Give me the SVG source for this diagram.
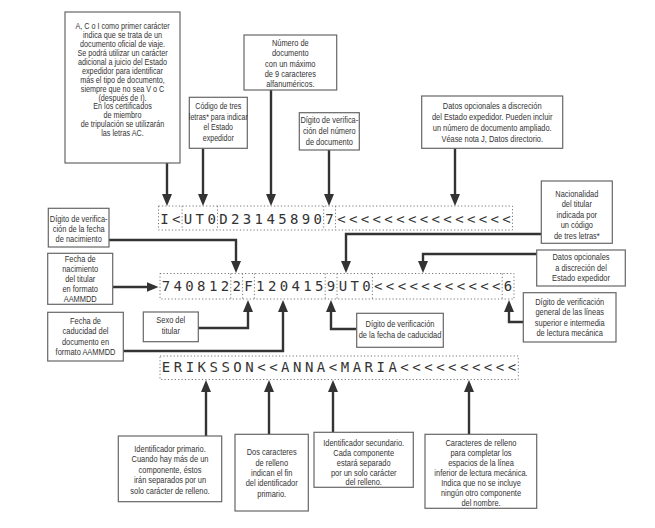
<svg xmlns="http://www.w3.org/2000/svg" width="655" height="528" viewBox="0 0 655 528">
<style>
.bx{fill:#fff;stroke:#666;stroke-width:1.2}
.t{font-family:"Liberation Sans",Arial,sans-serif;font-size:9.3px;fill:#333;text-anchor:middle}
.ta{font-size:8.5px}
.c{fill:none;stroke:#333;stroke-width:2.4;marker-end:url(#ah)}
.dot{fill:none;stroke:#777;stroke-width:1;stroke-dasharray:1.2 2.2}
.mrz{font-family:"DejaVu Sans Mono",monospace;font-size:14px;fill:#333;letter-spacing:3.37px}
</style>
<defs>
<marker id="ah" viewBox="0 0 12 10" refX="0.5" refY="5" markerWidth="12" markerHeight="10" markerUnits="userSpaceOnUse" orient="auto"><path d="M0,0 L12,5 L0,10 z" fill="#333"/></marker>
</defs>
<rect width="655" height="528" fill="#fff"/>

<g id="connectors">
<path class="c" d="M167,163 V194.5"/>
<path class="c" d="M203,148 V194.5"/>
<path class="c" d="M271,90 V194.5"/>
<path class="c" d="M329,150 V194.5"/>
<path class="c" d="M455,148 V194.5"/>
<path class="c" d="M541,234 H346 V261.5"/>
<path class="c" d="M537,254 H423 V261.5"/>
<path class="c" d="M109,240 H236 V261.5"/>
<path class="c" d="M113,287 H147"/>
<path class="c" d="M198,328 H248 V311.5"/>
<path class="c" d="M123,351 H283 V311.5"/>
<path class="c" d="M356,329 H331 V311.5"/>
<path class="c" d="M523,322 H509 V311.5"/>
<path class="c" d="M206,436 V391.5"/>
<path class="c" d="M269,434 V391.5"/>
<path class="c" d="M333,432 V391.5"/>
<path class="c" d="M469,434 V391.5"/>
</g>

<g id="mrz1">
<rect class="dot" x="158.5" y="206" width="354" height="24"/>
<path class="dot" d="M182.1,206 V230 M217.5,206 V230 M323.7,206 V230 M335.5,206 V230"/>
<text class="mrz" x="160.2" y="224">I&lt;UT0D231458907&lt;&lt;&lt;&lt;&lt;&lt;&lt;&lt;&lt;&lt;&lt;&lt;&lt;&lt;&lt;</text>
</g>
<g id="mrz2">
<rect class="dot" x="160" y="273.5" width="354" height="25.5"/>
<path class="dot" d="M230.8,273.5 V299 M242.6,273.5 V299 M254.4,273.5 V299 M325.2,273.5 V299 M337,273.5 V299 M372.4,273.5 V299 M502.2,273.5 V299"/>
<text class="mrz" x="161.7" y="291">7408122F1204159UT0&lt;&lt;&lt;&lt;&lt;&lt;&lt;&lt;&lt;&lt;&lt;6</text>
</g>
<g id="mrz3">
<rect class="dot" x="160" y="356" width="358.3" height="23.5"/>
<text class="mrz" x="161.8" y="372.3" style="letter-spacing:3.5px">ERIKSSON&lt;&lt;ANNA&lt;MARIA&lt;&lt;&lt;&lt;&lt;&lt;&lt;&lt;&lt;&lt;</text>
</g>

<g id="n-tipo">
<rect class="bx" x="65" y="12" width="115" height="151"/>
<g transform="translate(122.5 0) scale(0.85 1)">
<text class="t ta" y="29">A, C o I como primer carácter</text>
<text class="t ta" y="37.9">indica que se trata de un</text>
<text class="t ta" y="46.9">documento oficial de viaje.</text>
<text class="t ta" y="55.8">Se podrá utilizar un carácter</text>
<text class="t ta" y="64.8">adicional a juicio del Estado</text>
<text class="t ta" y="73.7">expedidor para identificar</text>
<text class="t ta" y="82.7">más el tipo de documento,</text>
<text class="t ta" y="91.6">siempre que no sea V o C</text>
<text class="t ta" y="100.6">(después de I).</text>
<text class="t ta" y="109.5">En los certificados</text>
<text class="t ta" y="118.5">de miembro</text>
<text class="t ta" y="127.4">de tripulación se utilizarán</text>
<text class="t ta" y="136.4">las letras AC.</text>
</g>
</g>

<g id="n-codigo">
<rect class="bx" x="189.3" y="97.3" width="58" height="51"/>
<g transform="translate(218.3 0) scale(0.76 1)">
<text class="t" y="109.5">Código de tres</text>
<text class="t" y="120">letras* para indicar</text>
<text class="t" y="130.5">el Estado</text>
<text class="t" y="141">expedidor</text>
</g>
</g>

<g id="n-numero">
<rect class="bx" x="244" y="35" width="92.7" height="55"/>
<g transform="translate(290.3 0) scale(0.8 1)">
<text class="t" y="45.8">Número de</text>
<text class="t" y="56.2">documento</text>
<text class="t" y="66.6">con un máximo</text>
<text class="t" y="77">de 9 caracteres</text>
<text class="t" y="87.4">alfanuméricos.</text>
</g>
</g>

<g id="n-digdoc">
<rect class="bx" x="299.3" y="112.7" width="60" height="37.3"/>
<g transform="translate(329.3 0) scale(0.8 1)">
<text class="t" y="123.3">Dígito de verifica-</text>
<text class="t" y="134">ción del número</text>
<text class="t" y="144.8">de documento</text>
</g>
</g>

<g id="n-datos1">
<rect class="bx" x="421.7" y="96" width="141" height="52.3"/>
<g transform="translate(492.2 0) scale(0.8 1)">
<text class="t" y="108.6">Datos opcionales a discreción</text>
<text class="t" y="119.8">del Estado expedidor. Pueden incluir</text>
<text class="t" y="130.9">un número de documento ampliado.</text>
<text class="t" y="142">Véase nota J, Datos directorio.</text>
</g>
</g>

<g id="n-nacion">
<rect class="bx" x="541.3" y="181" width="71" height="62.3"/>
<g transform="translate(576.8 0) scale(0.8 1)">
<text class="t" y="196.6">Nacionalidad</text>
<text class="t" y="207.2">del titular</text>
<text class="t" y="217.8">indicada por</text>
<text class="t" y="228.3">un código</text>
<text class="t" y="238.7">de tres letras*</text>
</g>
</g>

<g id="n-datos2">
<rect class="bx" x="536.7" y="250" width="88.6" height="36"/>
<g transform="translate(581 0) scale(0.8 1)">
<text class="t" y="260">Datos opcionales</text>
<text class="t" y="270.6">a discreción del</text>
<text class="t" y="281.2">Estado expedidor</text>
</g>
</g>

<g id="n-diggen">
<rect class="bx" x="523.3" y="292.7" width="92.7" height="49.3"/>
<g transform="translate(569.7 0) scale(0.8 1)">
<text class="t" y="305">Dígito de verificación</text>
<text class="t" y="315.4">general de las líneas</text>
<text class="t" y="326">superior e intermedia</text>
<text class="t" y="336.5">de lectura mecánica</text>
</g>
</g>

<g id="n-dignac">
<rect class="bx" x="48.3" y="208.3" width="60.7" height="38.7"/>
<g transform="translate(78.7 0) scale(0.8 1)">
<text class="t" y="222.3">Dígito de verifica-</text>
<text class="t" y="232.5">ción de la fecha</text>
<text class="t" y="242.3">de nacimiento</text>
</g>
</g>

<g id="n-fnac">
<rect class="bx" x="47.7" y="253.3" width="65" height="51"/>
<g transform="translate(80.2 0) scale(0.8 1)">
<text class="t" y="262">Fecha de</text>
<text class="t" y="272">nacimiento</text>
<text class="t" y="282.2">del titular</text>
<text class="t" y="292.2">en formato</text>
<text class="t" y="302.2">AAMMDD</text>
</g>
</g>

<g id="n-fcad">
<rect class="bx" x="47.7" y="312.3" width="75.6" height="48.7"/>
<g transform="translate(85.5 0) scale(0.8 1)">
<text class="t" y="324">Fecha de</text>
<text class="t" y="334.5">caducidad del</text>
<text class="t" y="344.6">documento en</text>
<text class="t" y="355">formato AAMMDD</text>
</g>
</g>

<g id="n-sexo">
<rect class="bx" x="143.3" y="312" width="55" height="29.7"/>
<g transform="translate(170.8 0) scale(0.8 1)">
<text class="t" y="323.3">Sexo del</text>
<text class="t" y="334.3">titular</text>
</g>
</g>

<g id="n-digcad">
<rect class="bx" x="356.7" y="313.3" width="86.6" height="34"/>
<g transform="translate(400 0) scale(0.8 1)">
<text class="t" y="327.5">Dígito de verificación</text>
<text class="t" y="338.3">de la fecha de caducidad</text>
</g>
</g>

<g id="n-ident1">
<rect class="bx" x="118.3" y="436" width="103.4" height="65.7"/>
<g transform="translate(170 0) scale(0.8 1)">
<text class="t" y="451.6">Identificador primario.</text>
<text class="t" y="462.2">Cuando hay más de un</text>
<text class="t" y="472.6">componente, éstos</text>
<text class="t" y="483.2">irán separados por un</text>
<text class="t" y="493.9">solo carácter de relleno.</text>
</g>
</g>

<g id="n-dos">
<rect class="bx" x="235" y="434.3" width="73.3" height="76.7"/>
<g transform="translate(271.7 0) scale(0.8 1)">
<text class="t" y="455">Dos caracteres</text>
<text class="t" y="466">de relleno</text>
<text class="t" y="476">indican el fin</text>
<text class="t" y="486">del identificador</text>
<text class="t" y="496.6">primario.</text>
</g>
</g>

<g id="n-ident2">
<rect class="bx" x="314" y="432.3" width="99.3" height="55"/>
<g transform="translate(363.7 0) scale(0.8 1)">
<text class="t" y="445.9">Identificador secundario.</text>
<text class="t" y="455.6">Cada componente</text>
<text class="t" y="465.6">estará separado</text>
<text class="t" y="475.6">por un solo carácter</text>
<text class="t" y="485.4">del relleno.</text>
</g>
</g>

<g id="n-carac">
<rect class="bx" x="425" y="434.3" width="111.7" height="74"/>
<g transform="translate(481 0) scale(0.8 1)">
<text class="t" y="445.6">Caracteres de relleno</text>
<text class="t" y="455.6">para completar los</text>
<text class="t" y="465.6">espacios de la línea</text>
<text class="t" y="475.6">inferior de lectura mecánica.</text>
<text class="t" y="485.6">Indica que no se incluye</text>
<text class="t" y="495.6">ningún otro componente</text>
<text class="t" y="505.6">del nombre.</text>
</g>
</g>
</svg>
